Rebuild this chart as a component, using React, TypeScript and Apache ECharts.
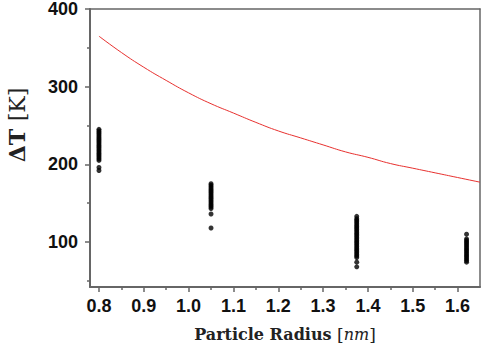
import React, { useEffect, useRef } from "react";
import * as echarts from "echarts";

const xTickLabels = [0.8, 0.9, 1.0, 1.1, 1.2, 1.3, 1.4, 1.5, 1.6];
const xMinorTicks = [0.85, 0.95, 1.05, 1.15, 1.25, 1.35, 1.45, 1.55];
const yTickLabels = [100, 200, 300, 400];
const yMinorTicks = [50, 150, 250, 350];

const curveX = [0.8, 0.85, 0.9, 0.95, 1.0, 1.05, 1.1, 1.15, 1.2, 1.25, 1.3, 1.35, 1.4, 1.45, 1.5, 1.55, 1.6, 1.65];
const curveY = [365, 344, 325, 308, 292, 278, 266, 254, 243, 234, 225, 216, 209, 201, 195, 189, 183, 177];

const radii = [0.8, 1.05, 1.375, 1.62];
const cluster08 = [192, 196, 205, 207, 209, 211, 213, 215, 217, 219, 221, 223, 225, 227, 229, 231, 233, 235, 237, 239, 241, 243, 245];
const cluster105 = [118, 136, 143, 145, 147, 149, 151, 153, 155, 157, 159, 161, 163, 165, 167, 169, 171, 173, 175];
const cluster1375 = [68, 74, 80, 82, 84, 86, 88, 90, 92, 94, 96, 98, 100, 102, 104, 106, 108, 110, 112, 114, 116, 118, 120, 122, 124, 126, 128, 130, 133];
const cluster162 = [74, 76, 78, 80, 82, 84, 86, 88, 90, 92, 94, 96, 98, 100, 102, 104, 110];

const clusters = [cluster08, cluster105, cluster1375, cluster162];

export default function App() {
  const ref = useRef<HTMLDivElement>(null);
  useEffect(() => {
    if (!ref.current) return;
    const chart = echarts.init(ref.current, undefined, { renderer: "svg" });
    const scatterData: number[][] = [];
    clusters.forEach((c, i) => c.forEach((v) => scatterData.push([radii[i], v])));
    const axisColor = "#666";
    const labelStyle = { color: "#111", fontFamily: "Liberation Sans", fontWeight: "bold" as const, fontSize: 18 };
    const serif = "DejaVu Serif";
    chart.setOption({
      animation: false,
      grid: { left: 90, right: 10, top: 4, bottom: 65, containLabel: false },
      graphic: [
        {
          type: "text",
          x: 17,
          y: 125,
          rotation: Math.PI / 2,
          style: {
            text: "{b|ΔT }{r|[K]}",
            align: "center",
            verticalAlign: "middle",
            fill: "#222",
            rich: {
              b: { fontFamily: serif, fontWeight: "bold", fontSize: 22, fill: "#222" },
              r: { fontFamily: serif, fontSize: 22, fill: "#222" },
            },
          },
        },
      ],
      xAxis: [
        {
          type: "value", min: 0.78, max: 1.65, position: "bottom",
          axisLine: { show: true, onZero: false, lineStyle: { color: axisColor, width: 2 } },
          axisTick: { show: true, inside: false, length: 5, customValues: xTickLabels, lineStyle: { color: axisColor, width: 1.5 } },
          axisLabel: { show: true, customValues: xTickLabels, margin: 10, formatter: (v: number) => v.toFixed(1), ...labelStyle },
          splitLine: { show: false },
          name: "{b|Particle Radius }{r|[}{i|nm}{r|]}",
          nameLocation: "middle",
          nameGap: 39,
          nameTextStyle: {
            color: "#222",
            rich: {
              b: { fontFamily: serif, fontWeight: "bold", fontSize: 16, color: "#222" },
              r: { fontFamily: serif, fontSize: 17, color: "#222" },
              i: { fontFamily: serif, fontStyle: "italic", fontSize: 16, color: "#222" },
            },
          },
        },
        {
          type: "value", min: 0.78, max: 1.65, position: "bottom",
          axisLine: { show: false },
          axisTick: { show: true, length: 3, customValues: xMinorTicks, lineStyle: { color: axisColor, width: 1.5 } },
          axisLabel: { show: false },
          splitLine: { show: false },
        },
        {
          type: "value", min: 0.78, max: 1.65, position: "top",
          axisLine: { show: true, onZero: false, lineStyle: { color: axisColor, width: 1.5 } },
          axisTick: { show: false }, axisLabel: { show: false }, splitLine: { show: false },
        },
      ],
      yAxis: [
        {
          type: "value", min: 42, max: 400, position: "left",
          axisLine: { show: true, onZero: false, lineStyle: { color: axisColor, width: 2 } },
          axisTick: { show: true, length: 5, customValues: yTickLabels, lineStyle: { color: axisColor, width: 1.5 } },
          axisLabel: { show: true, customValues: yTickLabels, margin: 12, ...labelStyle },
          splitLine: { show: false },
        },
        {
          type: "value", min: 42, max: 400, position: "left",
          axisLine: { show: false },
          axisTick: { show: true, length: 3, customValues: yMinorTicks, lineStyle: { color: axisColor, width: 1.5 } },
          axisLabel: { show: false }, splitLine: { show: false },
        },
        {
          type: "value", min: 42, max: 400, position: "right",
          axisLine: { show: true, onZero: false, lineStyle: { color: axisColor, width: 1.5 } },
          axisTick: { show: false }, axisLabel: { show: false }, splitLine: { show: false },
        },
      ],
      series: [
        {
          type: "line",
          data: curveX.map((x, i) => [x, curveY[i]]),
          smooth: true,
          showSymbol: false,
          lineStyle: { color: "#e8312f", width: 1 },
          z: 2,
        },
        {
          type: "scatter",
          data: scatterData,
          symbol: "circle",
          symbolSize: 5,
          itemStyle: { color: "#000" },
          z: 3,
        },
      ],
    });
    return () => chart.dispose();
  }, []);
  return <div ref={ref} style={{ position: "absolute", left: 0, top: 0, width: 490, height: 352 }} />;
}
